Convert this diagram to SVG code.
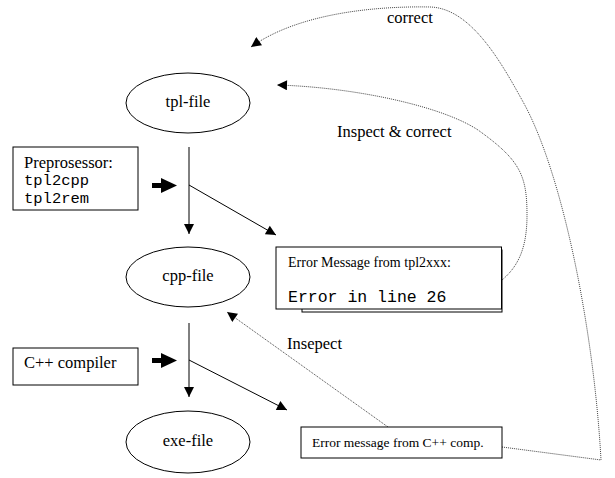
<svg xmlns="http://www.w3.org/2000/svg" width="615" height="478" viewBox="0 0 615 478">
<style>
.bg{fill:#fff}
.shape{fill:#fff;stroke:#000;stroke-width:1}
.t{font-family:"Liberation Serif","Times New Roman",serif;font-size:16.5px;fill:#000}
.ts{font-family:"Liberation Serif","Times New Roman",serif;font-size:14px;fill:#000}
.m{font-family:"Liberation Mono","Courier New",monospace;font-size:16.5px;fill:#000}
.ms{font-family:"Liberation Mono","Courier New",monospace;font-size:15.5px;fill:#000}
.line{fill:none;stroke:#000;stroke-width:1}
.dot{fill:none;stroke:#444;stroke-width:1;stroke-dasharray:1 1}
.thick{fill:#000}
</style>
<defs>
<marker id="ah" viewBox="0 0 10 10" refX="10" refY="5" markerWidth="11" markerHeight="10" markerUnits="userSpaceOnUse" orient="auto">
<path d="M0,0 L10,5 L0,10 z" fill="#000"/>
</marker>
</defs>
<rect class="bg" x="0" y="0" width="615" height="478"/>

<g id="connectors">
<line class="line" x1="189" y1="147" x2="189" y2="234" marker-end="url(#ah)"/>
<line class="line" x1="189" y1="185" x2="276" y2="235" marker-end="url(#ah)"/>
<line class="line" x1="189" y1="323" x2="189" y2="397" marker-end="url(#ah)"/>
<line class="line" x1="189" y1="360" x2="287" y2="410" marker-end="url(#ah)"/>
<path class="dot" d="M502,447 L601,460 C594,330 562,170 522,100 C500,60 470,8 430,7 C380,6 300,12 251,47" marker-end="url(#ah)"/>
<path class="dot" d="M502,280 C520,265 527,245 527,215 C527,175 520,160 478,130 C440,105 350,87 277,85" marker-end="url(#ah)"/>
<line class="dot" x1="388" y1="427" x2="227" y2="312" marker-end="url(#ah)"/>
<text class="t" x="387" y="23">correct</text>
<text class="t" x="337" y="137">Inspect &amp; correct</text>
<text class="t" x="287" y="349">Insepect</text>
</g>

<g id="tpl-file">
<ellipse class="shape" cx="188" cy="103" rx="62" ry="30"/>
<text class="t" x="188" y="107" text-anchor="middle">tpl-file</text>
</g>

<g id="cpp-file">
<ellipse class="shape" cx="188" cy="277" rx="62" ry="30"/>
<text class="t" x="188" y="281" text-anchor="middle">cpp-file</text>
</g>

<g id="exe-file">
<ellipse class="shape" cx="188" cy="442" rx="62" ry="31"/>
<text class="t" x="188" y="446" text-anchor="middle">exe-file</text>
</g>

<g id="preprocessor">
<rect class="shape" x="13" y="147" width="125" height="63"/>
<text class="t" x="24" y="168">Preprosessor:</text>
<text class="ms" x="24" y="185">tpl2cpp</text>
<text class="ms" x="24" y="203">tpl2rem</text>
</g>

<g id="preprocessor-arrow">
<rect class="thick" x="152" y="183" width="10" height="5"/>
<polygon class="thick" points="161,178 177,185.5 161,193"/>
</g>

<g id="compiler">
<rect class="shape" x="13" y="348" width="125" height="37"/>
<text class="t" x="24" y="368">C++ compiler</text>
</g>

<g id="compiler-arrow">
<rect class="thick" x="152" y="358" width="10" height="5"/>
<polygon class="thick" points="161,353 177,360.5 161,368"/>
</g>

<g id="error-tpl">
<rect class="shape" x="302" y="250" width="200" height="62"/>
<rect class="shape" x="276" y="247" width="225.5" height="62"/>
<text class="ts" x="288" y="267">Error Message from tpl2xxx:</text>
<text class="m" x="288" y="302">Error in line 26</text>
</g>

<g id="error-cpp">
<rect class="shape" x="301" y="427" width="201" height="31"/>
<text class="ts" x="312" y="447" style="font-size:13.5px">Error message from C++ comp.</text>
</g>
</svg>
